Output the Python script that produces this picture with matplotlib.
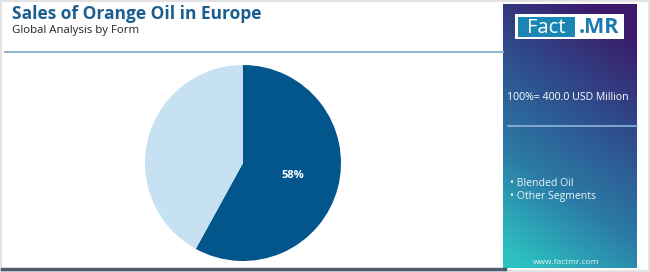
import matplotlib
matplotlib.use("Agg")
import matplotlib.pyplot as plt
import numpy as np
from matplotlib.colors import LinearSegmentedColormap
from matplotlib.patches import Rectangle
from matplotlib.lines import Line2D

plt.rcParams["font.family"] = ["Open Sans", "DejaVu Sans"]

# data
segments = ["Blended Oil", "Other Segments"]
shares = [58, 42]
total_label = "100%= 400.0 USD Million"
colors = ["#03568c", "#c6e2f2"]

W, H = 650, 272
fig = plt.figure(figsize=(W / 100, H / 100), dpi=100)


def fx(x):
    return x / W


def fy(y):
    return 1 - y / H


# outer frame
fig.add_artist(Rectangle((0.001, 0.002), 0.997, 0.995, transform=fig.transFigure,
                         facecolor="none", edgecolor="#e2e2e2", lw=1.5))

# header
fig.text(fx(12), fy(14), "Sales of Orange Oil in Europe", fontsize=12.5,
         fontweight="bold", color="#1b5f8f", va="center", ha="left")
fig.text(fx(12), fy(31), "Global Analysis by Form", fontsize=8.2,
         color="#222222", va="center", ha="left")
fig.add_artist(Line2D([fx(5), fx(503)], [fy(52), fy(52)], color="#8cb2ca", lw=1.4))
fig.add_artist(Line2D([fx(2), fx(505)], [fy(269), fy(269)], color="#4e5c6d", lw=2.5))

# pie
cx, cy, r = 243, 163, 98
ax = fig.add_axes([fx(cx - r), fy(cy + r), 2 * r / W, 2 * r / H])
wedges, texts, autotexts = ax.pie(
    shares, colors=colors, startangle=90, counterclock=False,
    autopct=lambda p: f"{p:.0f}%" if p > 50 else "", pctdistance=0.53,
    textprops=dict(color="white", fontsize=8, fontweight="bold"))
ax.set_xlim(-1, 1)
ax.set_ylim(-1, 1)
ax.set_aspect("equal")
ax.axis("off")

# right panel with gradient
px0, py0, px1, py1 = 503, 4, 637, 268
pax = fig.add_axes([fx(px0), fy(py1), (px1 - px0) / W, (py1 - py0) / H])
yy, xx = np.mgrid[0:1:200j, 0:1:100j]
t = np.clip(yy * 0.85 + (1 - xx) * 0.3 - 0.1, 0, 1)
cmap = LinearSegmentedColormap.from_list("panel", ["#3b1a6b", "#2f4c8a", "#2b7aa6", "#2cc2c2"])
pax.imshow(t, cmap=cmap, aspect="auto", extent=[0, 1, 0, 1], origin="upper")
pax.axis("off")

# logo
fig.add_artist(Rectangle((fx(515), fy(39)), fx(624) - fx(515), fy(14) - fy(39),
                         transform=fig.transFigure, facecolor="white", edgecolor="none"))
fig.add_artist(Rectangle((fx(518), fy(37)), fx(575) - fx(518), fy(16.5) - fy(37),
                         transform=fig.transFigure, facecolor="#1b86b3", edgecolor="none"))
fig.text(fx(546.5), fy(28), "Fact", fontsize=14.5, color="white", ha="center", va="center")
fig.text(fx(599), fy(27.5), ".MR", fontsize=15.5, color="#1b78b0", fontweight="bold",
         ha="center", va="center")

fig.text(fx(568), fy(97), total_label, fontsize=7.6, color="white", ha="center", va="center")
fig.add_artist(Line2D([fx(508), fx(637)], [fy(126), fy(126)], color="#8fb6da", lw=1.2))
for i, s in enumerate(segments):
    fig.text(fx(510), fy(183 + 13 * i), "\u2022 " + s, fontsize=7.6, color="#e8f4f8",
             ha="left", va="center")
fig.text(fx(566), fy(262), "www.factmr.com", fontsize=6, color="#e8f4f8", ha="center", va="center")

fig.savefig("out.png", dpi=100)
